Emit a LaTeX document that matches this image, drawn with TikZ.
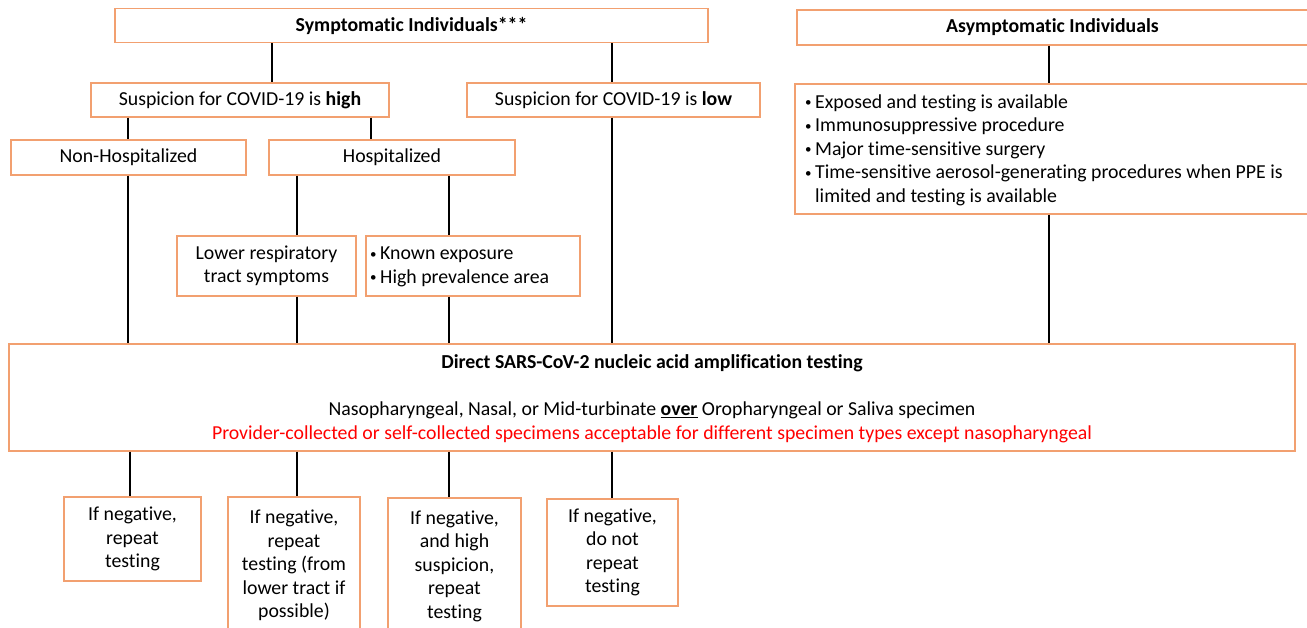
\documentclass[tikz,border=0pt]{standalone}
\usepackage{fontspec}
\setmainfont{Carlito}[RawFeature={-liga;-clig;-calt;-dlig}]
\definecolor{boxorange}{RGB}{242,160,112}
\definecolor{redtext}{RGB}{255,0,0}
\newcommand{\mybul}{\makebox[10pt][l]{\raisebox{1.5pt}{\fontsize{13}{13}\selectfont\textbullet}}}
\begin{document}
\begin{tikzpicture}[x=1pt,y=-1pt,
  box/.style={draw=boxorange, line width=1.3pt, fill=white, inner sep=0pt, align=center,
    font=\fontsize{19.8}{23.5}\selectfont},
  conn/.style={line width=1.6pt, black},
  txt/.style={inner sep=0pt, align=center, font=\fontsize{19.8}{23.5}\selectfont}]
\useasboundingbox (0,0) rectangle (1307,628);
\clip (0,0) rectangle (1307,628);
\fill[white] (0,0) rectangle (1307,628);
% column coordinates
\coordinate (cN) at (128,0);
\coordinate (cA) at (130,0);
\coordinate (cS) at (272,0);
\coordinate (cB) at (297,0);
\coordinate (cH) at (371,0);
\coordinate (cK) at (449,0);
\coordinate (cL) at (612,0);
\coordinate (cR) at (1049,0);
% boxes
\node[box, minimum width=593, minimum height=34] (sym) at (411.5,25.5) {\textbf{Symptomatic Individuals***}};
\node[box, minimum width=523, minimum height=35] (asym) at (1058.5,27.5) {\hspace*{-12pt}\textbf{Asymptomatic Individuals}};
\node[box, minimum width=298, minimum height=34] (high) at (240,100) {Suspicion for COVID-19 is \textbf{high}};
\node[box, minimum width=293, minimum height=34] (low) at (613.5,100) {Suspicion for COVID-19 is \textbf{low}};
\node[box, minimum width=235, minimum height=35] (nonhosp) at (128.5,157.5) {Non-Hospitalized};
\node[box, minimum width=246, minimum height=35] (hosp) at (392,157.5) {Hospitalized};
\node[box, minimum width=179, minimum height=60] (lower) at (266.5,266) {Lower respiratory\\tract symptoms};
\node[box, minimum width=214, minimum height=60] (known) at (473,266) {};
\node[txt, align=left, anchor=west] (knownt) at (370,267) {\mybul Known exposure\\\mybul High prevalence area};
\node[box, minimum width=525, minimum height=130] (bul) at (1057.5,149) {};
\node[txt, align=left, anchor=west] (bult) at (805,150) {\mybul Exposed and testing is available\\
\mybul Immunosuppressive procedure\\
\mybul Major time-sensitive surgery\\
\mybul Time-sensitive aerosol-generating procedures when PPE is\\
\hspace*{10pt}limited and testing is available};
\node[box, minimum width=1286, minimum height=107] (naat) at (652,397.5) {};
\node[txt] (naatt) at (652,399) {\textbf{Direct SARS-CoV-2 nucleic acid amplification testing}\\[23.5pt]
Nasopharyngeal, Nasal, or Mid-turbinate \textbf{\underline{over}} Oropharyngeal or Saliva specimen\\
\textcolor{redtext}{Provider-collected or self-collected specimens acceptable for different specimen types except nasopharyngeal}};
\node[box, minimum width=137, minimum height=84] (b1) at (132.5,539) {If negative,\\repeat\\testing};
\node[box, minimum width=132, minimum height=137] (b2) at (294,565.5) {If negative,\\repeat\\testing (from\\lower tract if\\possible)};
\node[box, minimum width=133, minimum height=136] (b3) at (454.5,566) {If negative,\\and high\\suspicion,\\repeat\\testing};
\node[box, minimum width=131, minimum height=107] (b4) at (612.5,552.5) {If negative,\\do not\\repeat\\testing};
% connectors
\draw[conn] (sym.south -| cS) -- (high.north -| cS);
\draw[conn] (sym.south -| cL) -- (low.north -| cL);
\draw[conn] (high.south -| cN) -- (nonhosp.north -| cN);
\draw[conn] (high.south -| cH) -- (hosp.north -| cH);
\draw[conn] (nonhosp.south -| cN) -- (naat.north -| cN);
\draw[conn] (hosp.south -| cB) -- (lower.north -| cB);
\draw[conn] (hosp.south -| cK) -- (known.north -| cK);
\draw[conn] (lower.south -| cB) -- (naat.north -| cB);
\draw[conn] (known.south -| cK) -- (naat.north -| cK);
\draw[conn] (low.south -| cL) -- (naat.north -| cL);
\draw[conn] (asym.south -| cR) -- (bul.north -| cR);
\draw[conn] (bul.south -| cR) -- (naat.north -| cR);
\draw[conn] (naat.south -| cA) -- (b1.north -| cA);
\draw[conn] (naat.south -| cB) -- (b2.north -| cB);
\draw[conn] (naat.south -| cK) -- (b3.north -| cK);
\draw[conn] (naat.south -| cL) -- (b4.north -| cL);
\end{tikzpicture}
\end{document}
